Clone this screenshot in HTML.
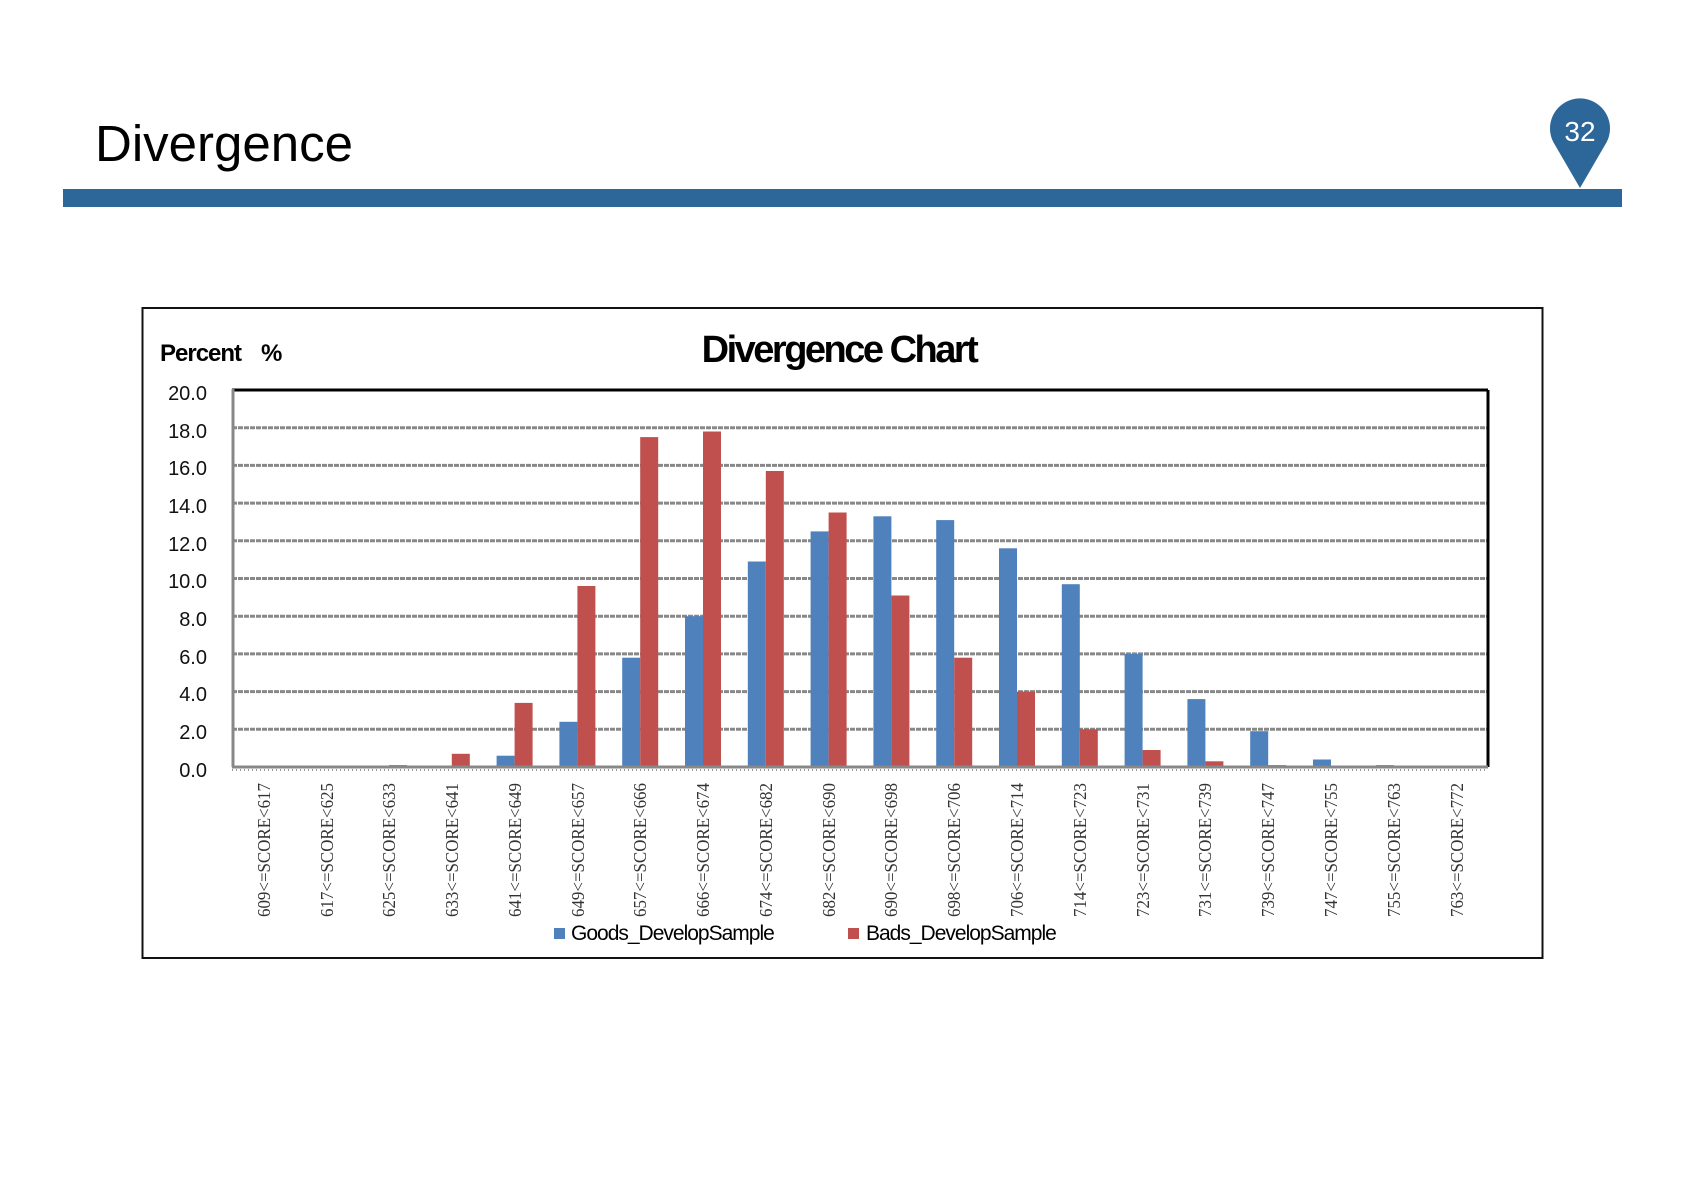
<!DOCTYPE html>
<html><head><meta charset="utf-8"><style>
html,body{margin:0;padding:0;background:#fff}
svg{display:block}
</style></head><body>
<svg width="1684" height="1190" viewBox="0 0 1684 1190" xmlns="http://www.w3.org/2000/svg" font-family="Liberation Sans, sans-serif">
<text x="95" y="161" font-size="51" fill="#000">Divergence</text>
<rect x="63" y="189" width="1559" height="18" fill="#2d6699"/>
<path d="M1580 188 L1555 145 A30 30 0 1 1 1605 145 Z" fill="#2d6699"/>
<text x="1580" y="141" font-size="28" fill="#fff" text-anchor="middle">32</text>
<rect x="142.5" y="308" width="1400" height="650" fill="#fff" stroke="#111" stroke-width="2"/>
<text x="160" y="361" font-size="24" font-weight="bold" letter-spacing="-1">Percent</text>
<text x="261" y="361" font-size="24" font-weight="bold">%</text>
<text x="839" y="362" font-size="38" font-weight="bold" text-anchor="middle" letter-spacing="-2.5">Divergence Chart</text>
<g stroke="#888" stroke-width="3" stroke-dasharray="5,1">
<line x1="232" y1="427.7" x2="1488" y2="427.7"/>
<line x1="232" y1="465.4" x2="1488" y2="465.4"/>
<line x1="232" y1="503.1" x2="1488" y2="503.1"/>
<line x1="232" y1="540.8" x2="1488" y2="540.8"/>
<line x1="232" y1="578.5" x2="1488" y2="578.5"/>
<line x1="232" y1="616.2" x2="1488" y2="616.2"/>
<line x1="232" y1="653.9" x2="1488" y2="653.9"/>
<line x1="232" y1="691.6" x2="1488" y2="691.6"/>
<line x1="232" y1="729.3" x2="1488" y2="729.3"/>
</g>
<line x1="232" y1="390" x2="1488" y2="390" stroke="#000" stroke-width="3"/>
<line x1="1488" y1="390" x2="1488" y2="767" stroke="#000" stroke-width="3"/>
<line x1="233" y1="389" x2="233" y2="767" stroke="#888" stroke-width="3"/>
<g font-size="20" text-anchor="end" fill="#111">
<text x="207" y="400">20.0</text><text x="207" y="438">18.0</text><text x="207" y="475">16.0</text>
<text x="207" y="513">14.0</text><text x="207" y="551">12.0</text><text x="207" y="588">10.0</text>
<text x="207" y="626">8.0</text><text x="207" y="664">6.0</text><text x="207" y="701">4.0</text>
<text x="207" y="739">2.0</text><text x="207" y="777">0.0</text>
</g>
<g fill="#4f81bd">
<rect x="496.6" y="755.7" width="18" height="11.3"/>
<rect x="559.4" y="721.8" width="18" height="45.2"/>
<rect x="622.2" y="657.7" width="18" height="109.3"/>
<rect x="685" y="616.2" width="18" height="150.8"/>
<rect x="747.8" y="561.5" width="18" height="205.5"/>
<rect x="810.6" y="531.4" width="18" height="235.6"/>
<rect x="873.4" y="516.3" width="18" height="250.7"/>
<rect x="936.2" y="520.1" width="18" height="246.9"/>
<rect x="999" y="548.3" width="18" height="218.7"/>
<rect x="1061.8" y="584.2" width="18" height="182.8"/>
<rect x="1124.6" y="653.9" width="18" height="113.1"/>
<rect x="1187.4" y="699.1" width="18" height="67.9"/>
<rect x="1250.2" y="731.2" width="18" height="35.8"/>
<rect x="1313" y="759.5" width="18" height="7.5"/>
<rect x="1375.8" y="765.1" width="18" height="1.9"/>
</g>
<g fill="#c0504d">
<rect x="389" y="765.1" width="18" height="1.9"/>
<rect x="451.8" y="753.8" width="18" height="13.2"/>
<rect x="514.6" y="702.9" width="18" height="64.1"/>
<rect x="577.4" y="586" width="18" height="181"/>
<rect x="640.2" y="437.1" width="18" height="329.9"/>
<rect x="703" y="431.5" width="18" height="335.5"/>
<rect x="765.8" y="471" width="18" height="296"/>
<rect x="828.6" y="512.5" width="18" height="254.5"/>
<rect x="891.4" y="595.5" width="18" height="171.5"/>
<rect x="954.2" y="657.7" width="18" height="109.3"/>
<rect x="1017" y="691.6" width="18" height="75.4"/>
<rect x="1079.8" y="729.3" width="18" height="37.7"/>
<rect x="1142.6" y="750" width="18" height="17"/>
<rect x="1205.4" y="761.3" width="18" height="5.7"/>
<rect x="1268.2" y="765.1" width="18" height="1.9"/>
</g>
<line x1="232" y1="767" x2="1488" y2="767" stroke="#888" stroke-width="3"/>
<line x1="232" y1="770" x2="1488" y2="770" stroke="#999" stroke-width="2" stroke-dasharray="1,3"/>
<g font-family="Liberation Serif, serif" font-size="18" fill="#333" text-anchor="end">
<text transform="translate(270,783) rotate(-90)" textLength="134" lengthAdjust="spacingAndGlyphs">609&lt;=SCORE&lt;617</text>
<text transform="translate(333,783) rotate(-90)" textLength="134" lengthAdjust="spacingAndGlyphs">617&lt;=SCORE&lt;625</text>
<text transform="translate(395,783) rotate(-90)" textLength="134" lengthAdjust="spacingAndGlyphs">625&lt;=SCORE&lt;633</text>
<text transform="translate(458,783) rotate(-90)" textLength="134" lengthAdjust="spacingAndGlyphs">633&lt;=SCORE&lt;641</text>
<text transform="translate(521,783) rotate(-90)" textLength="134" lengthAdjust="spacingAndGlyphs">641&lt;=SCORE&lt;649</text>
<text transform="translate(584,783) rotate(-90)" textLength="134" lengthAdjust="spacingAndGlyphs">649&lt;=SCORE&lt;657</text>
<text transform="translate(646,783) rotate(-90)" textLength="134" lengthAdjust="spacingAndGlyphs">657&lt;=SCORE&lt;666</text>
<text transform="translate(709,783) rotate(-90)" textLength="134" lengthAdjust="spacingAndGlyphs">666&lt;=SCORE&lt;674</text>
<text transform="translate(772,783) rotate(-90)" textLength="134" lengthAdjust="spacingAndGlyphs">674&lt;=SCORE&lt;682</text>
<text transform="translate(835,783) rotate(-90)" textLength="134" lengthAdjust="spacingAndGlyphs">682&lt;=SCORE&lt;690</text>
<text transform="translate(897,783) rotate(-90)" textLength="134" lengthAdjust="spacingAndGlyphs">690&lt;=SCORE&lt;698</text>
<text transform="translate(960,783) rotate(-90)" textLength="134" lengthAdjust="spacingAndGlyphs">698&lt;=SCORE&lt;706</text>
<text transform="translate(1023,783) rotate(-90)" textLength="134" lengthAdjust="spacingAndGlyphs">706&lt;=SCORE&lt;714</text>
<text transform="translate(1086,783) rotate(-90)" textLength="134" lengthAdjust="spacingAndGlyphs">714&lt;=SCORE&lt;723</text>
<text transform="translate(1149,783) rotate(-90)" textLength="134" lengthAdjust="spacingAndGlyphs">723&lt;=SCORE&lt;731</text>
<text transform="translate(1211,783) rotate(-90)" textLength="134" lengthAdjust="spacingAndGlyphs">731&lt;=SCORE&lt;739</text>
<text transform="translate(1274,783) rotate(-90)" textLength="134" lengthAdjust="spacingAndGlyphs">739&lt;=SCORE&lt;747</text>
<text transform="translate(1337,783) rotate(-90)" textLength="134" lengthAdjust="spacingAndGlyphs">747&lt;=SCORE&lt;755</text>
<text transform="translate(1400,783) rotate(-90)" textLength="134" lengthAdjust="spacingAndGlyphs">755&lt;=SCORE&lt;763</text>
<text transform="translate(1463,783) rotate(-90)" textLength="134" lengthAdjust="spacingAndGlyphs">763&lt;=SCORE&lt;772</text>
</g>
<rect x="554" y="928" width="11" height="11" fill="#4f81bd"/>
<text x="571" y="940" font-size="21" letter-spacing="-1">Goods_DevelopSample</text>
<rect x="848" y="928" width="11" height="11" fill="#c0504d"/>
<text x="866" y="940" font-size="21" letter-spacing="-1">Bads_DevelopSample</text>
</svg>
</body></html>
